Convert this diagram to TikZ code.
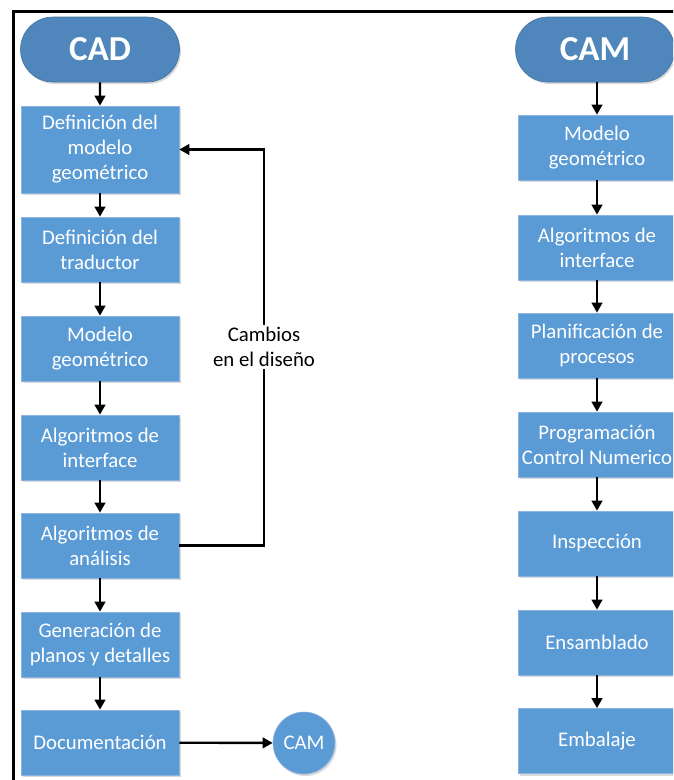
\documentclass[tikz,border=0pt]{standalone}
\usepackage{fontspec}
\setmainfont{Carlito}
\usetikzlibrary{arrows.meta,shadows,shapes.misc}
\definecolor{boxblue}{HTML}{5B9BD5}
\definecolor{boxedge}{HTML}{8DB4E0}
\definecolor{termblue}{HTML}{4F87BC}
\definecolor{termedge}{HTML}{41719C}
\begin{document}
\begin{tikzpicture}[x=1pt,y=-1pt,
  softshadow/.style={drop shadow={shadow xshift=1.5pt,shadow yshift=-2pt,opacity=0.25,fill=black!60}},
  stepbox/.style={draw=boxedge,line width=0.6pt,fill=boxblue,text=white,
    minimum width=158pt,minimum height=65pt,align=center,inner sep=0pt,
    font=\fontsize{20.8}{25}\selectfont,softshadow},
  term/.style={rounded rectangle,draw=termedge,line width=0.6pt,fill=termblue,text=white,
    minimum width=159pt,minimum height=65pt,inner sep=0pt,
    font=\bfseries\fontsize{35}{40}\selectfont,softshadow},
  flow/.style={-{Triangle[width=10.5pt,length=10pt]},line width=2.4pt},
  frameline/.style={line width=3pt}
]
\useasboundingbox (0,0) rectangle (673,780);
\clip (0,0) rectangle (673,780);

% outer frame (top and left edges)
\coordinate (fTL) at (13,11);
\coordinate (fTR) at (675,11);
\coordinate (fBL) at (13,782);
\draw[frameline] (fTR) -- (fTL) -- (fBL);

% CAD column
\node[term] (cad) at (100,49.5) {CAD};
\node[stepbox,minimum height=87pt] (l1) at (100,149.5) {Definición del\\modelo\\geométrico};
\node[stepbox] (l2) at (100,249.5) {Definición del\\traductor};
\node[stepbox] (l3) at (100,348.5) {Modelo\\geométrico};
\node[stepbox] (l4) at (100,447.5) {Algoritmos de\\interface};
\node[stepbox] (l5) at (100,545.5) {Algoritmos de\\análisis};
\node[stepbox] (l6) at (100,644.5) {Generación de\\planos y detalles};
\node[stepbox] (l7) at (100,742.5) {Documentación};
\node[circle,fill=boxblue,draw=boxedge,line width=0.6pt,minimum size=62pt,inner sep=0pt,
  text=white,font=\fontsize{20.8}{25}\selectfont,softshadow] (camc) at (304,743) {CAM};

\draw[flow] (cad) -- (l1);
\draw[flow] (l1) -- (l2);
\draw[flow] (l2) -- (l3);
\draw[flow] (l3) -- (l4);
\draw[flow] (l4) -- (l5);
\draw[flow] (l5) -- (l6);
\draw[flow] (l6) -- (l7);
\draw[flow] (l7) -- (camc);

% feedback loop
\coordinate (fb) at (264,0);
\draw[flow] (l5.east) -- (l5.east -| fb) |- (l1.east);
\node[fill=white,align=center,inner sep=2pt,font=\fontsize{20.8}{25}\selectfont] (chg) at (264,347) {Cambios\\en el diseño};

% CAM column
\node[term] (cam) at (595,49.5) {CAM};
\node[stepbox] (r1) at (597,147.5) {Modelo\\geométrico};
\node[stepbox] (r2) at (597,247.5) {Algoritmos de\\interface};
\node[stepbox] (r3) at (597,345.5) {Planificación de\\procesos};
\node[stepbox] (r4) at (597,444.5) {Programación\\Control Numerico};
\node[stepbox] (r5) at (597,543.5) {Inspección};
\node[stepbox] (r6) at (597,642.5) {Ensamblado};
\node[stepbox] (r7) at (597,741) {Embalaje};

\draw[flow] (cam.south -| r1.north) -- (r1);
\draw[flow] (r1) -- (r2);
\draw[flow] (r2) -- (r3);
\draw[flow] (r3) -- (r4);
\draw[flow] (r4) -- (r5);
\draw[flow] (r5) -- (r6);
\draw[flow] (r6) -- (r7);
\end{tikzpicture}
\end{document}
